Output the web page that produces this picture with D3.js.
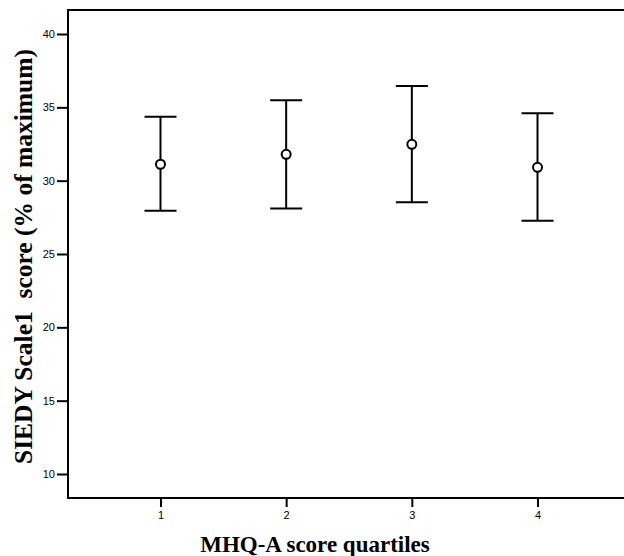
<!DOCTYPE html>
<html><head><meta charset="utf-8">
<script src="https://cdn.jsdelivr.net/npm/d3@7"></script>
<style>body{margin:0;background:#fff}svg{display:block}</style>
</head><body>
<script>
const categories = [1, 2, 3, 4];
const means = [31.12, 31.80, 32.48, 30.91];
const upper = [34.36, 35.48, 36.45, 34.59];
const lower = [27.95, 28.11, 28.52, 27.27];
const yTicks = [10, 15, 20, 25, 30, 35, 40];
const xLabel = "MHQ-A score quartiles";
const yLabel = "SIEDY Scale1  score (% of maximum)";

(function () {
const W = 624, H = 556;
const pL = 68, pT = 10, pB = 498, pR = 630;
const svg = d3.select("body").append("svg").attr("width", W).attr("height", H);

const x = d3.scaleLinear().domain([0.264, 4.736]).range([pL, pR]);
const y = d3.scaleLinear().domain([10, 40]).range([474, 34]);

svg.append("rect").attr("x", pL).attr("y", pT).attr("width", pR - pL).attr("height", pB - pT)
  .attr("fill", "none").attr("stroke", "#000").attr("stroke-width", 2);

const yAxis = svg.append("g").attr("transform", `translate(${pL},0)`)
  .call(d3.axisLeft(y).tickValues(yTicks).tickSize(11).tickPadding(2).tickFormat(d3.format("d")));
yAxis.select(".domain").remove();
yAxis.selectAll("line").attr("stroke-width", 2);
yAxis.selectAll("text").attr("font-family", "Liberation Sans, Arial, sans-serif").attr("font-size", 11).attr("fill", "#000");

const xAxis = svg.append("g").attr("transform", `translate(0,${pB})`)
  .call(d3.axisBottom(x).tickValues(categories).tickSize(9).tickPadding(4).tickFormat(d3.format("d")));
xAxis.select(".domain").remove();
xAxis.selectAll("line").attr("stroke-width", 2);
xAxis.selectAll("text").attr("font-family", "Liberation Sans, Arial, sans-serif").attr("font-size", 11).attr("fill", "#000");

const data = categories.map((c, i) => ({c, m: means[i], u: upper[i], l: lower[i]}));
const g = svg.append("g").attr("stroke", "#000").attr("stroke-width", 2).attr("fill", "none");
const cap = 16;
data.forEach(d => {
  g.append("line").attr("x1", x(d.c)).attr("x2", x(d.c)).attr("y1", y(d.u)).attr("y2", y(d.l));
  g.append("line").attr("x1", x(d.c) - cap).attr("x2", x(d.c) + cap).attr("y1", y(d.u)).attr("y2", y(d.u));
  g.append("line").attr("x1", x(d.c) - cap).attr("x2", x(d.c) + cap).attr("y1", y(d.l)).attr("y2", y(d.l));
  g.append("circle").attr("cx", x(d.c)).attr("cy", y(d.m)).attr("r", 4.5).attr("fill", "#fff");
});

svg.append("text").attr("x", 315).attr("y", 552).attr("text-anchor", "middle")
  .attr("font-family", "Liberation Serif, Times New Roman, serif").attr("font-weight", "bold").attr("font-size", 23)
  .text(xLabel);
svg.append("text").attr("transform", "translate(32,256.5) rotate(-90)").attr("text-anchor", "middle")
  .attr("xml:space", "preserve").style("white-space", "pre")
  .attr("font-family", "Liberation Serif, Times New Roman, serif").attr("font-weight", "bold").attr("font-size", 25.5)
  .text(yLabel);
})();
</script>
</body></html>
